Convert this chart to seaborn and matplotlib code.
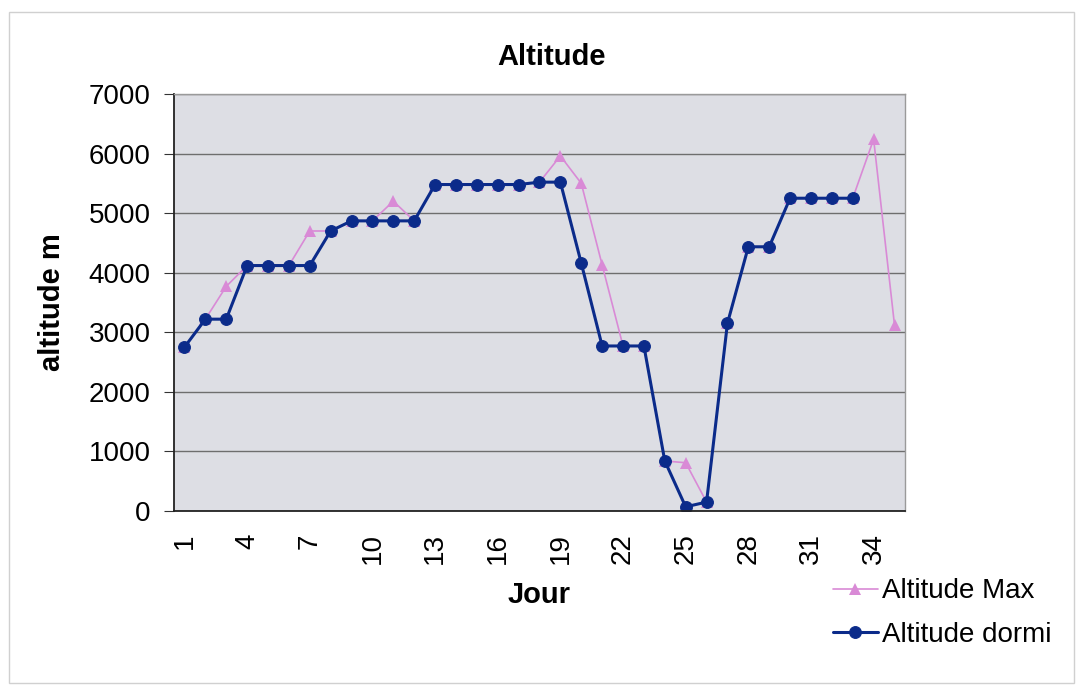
import numpy as np
import pandas as pd
import seaborn as sns
import matplotlib.pyplot as plt
from matplotlib.patches import Rectangle

# Données
jours = list(range(1, 36))
altitude_max = [2750, 3220, 3770, 4120, 4120, 4120, 4700, 4700, 4870, 4870,
                5200, 4870, 5480, 5480, 5480, 5480, 5480, 5520, 5960, 5500,
                4130, 2770, 2770, 840, 810, 150, 3150, 4435, 4435, 5250,
                5250, 5250, 5250, 6240, 3120]
altitude_dormi = [2750, 3220, 3220, 4120, 4120, 4120, 4120, 4700, 4870, 4870,
                  4870, 4870, 5480, 5480, 5480, 5480, 5480, 5520, 5520, 4160,
                  2770, 2770, 2770, 840, 70, 150, 3150, 4435, 4435, 5250,
                  5250, 5250, 5250, np.nan, np.nan]
jour_labels = list(range(1, 36, 3))

df = pd.DataFrame({'Jour': jours, 'Altitude Max': altitude_max,
                   'Altitude dormi': altitude_dormi})

sns.set_style('white')
plt.rcParams['font.family'] = ['Liberation Sans', 'DejaVu Sans']
plt.rcParams['text.color'] = 'black'
plt.rcParams['axes.labelcolor'] = 'black'

fig = plt.figure(figsize=(10.83, 6.91), dpi=100)
fig.patches.append(Rectangle((0.008, 0.012), 0.984, 0.970, transform=fig.transFigure,
                             fill=False, edgecolor='#d0d0d0', linewidth=1))
ax = fig.add_axes([0.1607, 0.2605, 0.6749, 0.6035])
ax.set_facecolor('#dddee4')

sns.lineplot(data=df, x='Jour', y='Altitude Max', ax=ax, color='#d98ad6',
             linewidth=1.2, marker='^', markersize=9, markeredgewidth=0,
             label='Altitude Max', legend=False)
sns.lineplot(data=df.dropna(), x='Jour', y='Altitude dormi', ax=ax, color='#0b2b8a',
             linewidth=2.2, marker='o', markersize=8.5, markeredgecolor='#0b2b8a',
             label='Altitude dormi', legend=False)

ax.set_xlim(0.5, 35.5)
ax.set_ylim(0, 7000)
ax.set_yticks(range(0, 7001, 1000))
ax.yaxis.grid(True, color='#6e6e6e', linewidth=1)
ax.set_axisbelow(True)

ax.set_xticks(jour_labels)
ax.set_xticklabels([str(j) for j in jour_labels], rotation=90, fontsize=20)
ax.set_xticks(np.arange(0.5, 36, 1), minor=True)
ax.tick_params(axis='x', which='major', length=0, pad=16, labelcolor='black')
ax.tick_params(axis='x', which='minor', length=5, color='#333333', direction='out')
ax.tick_params(axis='y', length=7, pad=10, labelsize=20, color='#333333',
               labelcolor='black', direction='out', left=True)

for side in ['left', 'bottom']:
    ax.spines[side].set_color('#222222')
    ax.spines[side].set_linewidth(1.3)
for side in ['top', 'right']:
    ax.spines[side].set_color('#9a9a9a')
    ax.spines[side].set_linewidth(1)

fig.text(0.509, 0.917, 'Altitude', fontsize=21, fontweight='bold',
         ha='center', va='center')
ax.set_xlabel('Jour', fontsize=21, fontweight='bold', labelpad=12)
ax.set_ylabel('altitude m', fontsize=21, fontweight='bold', labelpad=16)

handles, labels = ax.get_legend_handles_labels()
fig.legend(handles, labels, loc='upper left', bbox_to_anchor=(0.759, 0.179),
           borderaxespad=0, frameon=False, fontsize=20, handlelength=1.6,
           handletextpad=0.15, labelspacing=0.63)

fig.savefig('out.png', dpi=100)
